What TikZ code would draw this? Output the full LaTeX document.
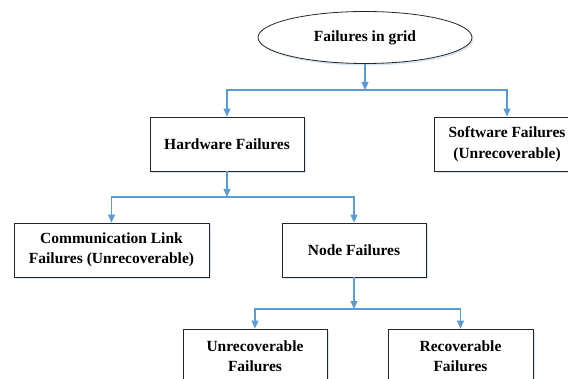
\documentclass[tikz,border=0pt]{standalone}
\usepackage{fontspec}
\setmainfont{Liberation Serif}
\usetikzlibrary{arrows.meta,shadows,shapes.geometric}
\definecolor{linkblue}{RGB}{91,155,213}
\definecolor{shade}{RGB}{200,220,240}
\begin{document}
\begin{tikzpicture}[x=1pt,y=1pt,
  txt/.style={font=\bfseries\fontsize{15.5}{20.5}\selectfont, align=center},
  softshadow/.style={drop shadow={shadow xshift=1.5pt,shadow yshift=-2pt,fill=shade,opacity=0.7}},
  box/.style={txt, draw=black!85, line width=0.8pt, fill=white, softshadow,
              minimum height=54pt, inner sep=0pt},
  root/.style={txt, ellipse, draw=black!85, line width=0.8pt, fill=white, softshadow,
               minimum width=214pt, minimum height=52pt, inner sep=0pt},
  link/.style={draw=linkblue, line width=1.1pt},
  arr/.style={link, -{Triangle[width=7pt,length=8pt]}}
]
\useasboundingbox (0,0) rectangle (568,378);
\clip (0,0) rectangle (568,378);

% nodes of the failure tree
\node[root] (grid) at (365,340.5) {Failures in grid};
\node[box, minimum width=154pt] (hw) at (227,234) {Hardware Failures};
\node[box, minimum width=146pt] (sw) at (507,234) {Software Failures\\(Unrecoverable)};
\node[box, minimum width=195pt] (comm) at (111.5,128) {Communication Link\\Failures (Unrecoverable)};
\node[box, minimum width=144pt] (nodef) at (354,128) {Node Failures};
\node[box, minimum width=144pt] (unrec) at (255,22) {Unrecoverable\\Failures};
\node[box, minimum width=145pt] (rec) at (460.5,22) {Recoverable\\Failures};

% junction points on the horizontal bars
\coordinate (j1) at (grid.south |- 0,288);
\coordinate (j2) at (hw.south |- 0,181);
\coordinate (j3) at (nodef.south |- 0,69);

% connectors
\draw[arr] (grid.south) -- (j1);
\draw[arr] (j1) -| (hw.north);
\draw[arr] (j1) -| (sw.north);

\draw[arr] (hw.south) -- (j2);
\draw[arr] (j2) -| (comm.north);
\draw[arr] (j2) -| (nodef.north);

\draw[arr] (nodef.south) -- (j3);
\draw[arr] (j3) -| (unrec.north);
\draw[arr] (j3) -| (rec.north);
\end{tikzpicture}
\end{document}
